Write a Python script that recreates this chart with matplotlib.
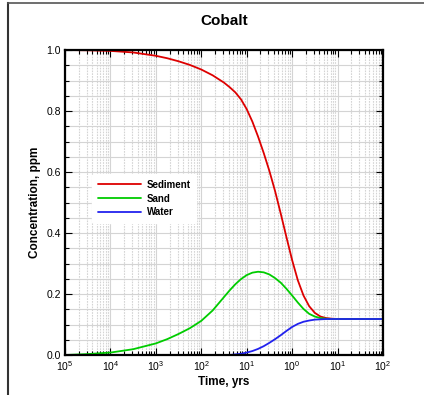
import matplotlib
matplotlib.use("Agg")
import matplotlib.pyplot as plt
from matplotlib.lines import Line2D
from matplotlib.ticker import MultipleLocator, LogLocator, NullFormatter

plt.rcParams['font.family'] = ['Liberation Sans', 'DejaVu Sans']

# Data (log10 of time in years, concentration in ppm)
log_time = [-5, -4.5, -4, -3.5, -3, -2.75, -2.5, -2.25, -2, -1.75, -1.5, -1.375, -1.25,
            -1.125, -1, -0.875, -0.75, -0.625, -0.5, -0.375, -0.25, -0.125, 0, 0.125,
            0.25, 0.375, 0.5, 0.625, 0.75, 0.875, 1, 1.5, 2]
sediment = [1.0, 0.999, 0.997, 0.992, 0.981, 0.973, 0.963, 0.951, 0.936, 0.917, 0.893, 0.878, 0.861,
            0.838, 0.806, 0.765, 0.716, 0.662, 0.603, 0.537, 0.463, 0.386, 0.311, 0.245,
            0.195, 0.16, 0.138, 0.126, 0.121, 0.119, 0.118, 0.118, 0.118]
sand = [0.0, 0.003, 0.008, 0.019, 0.038, 0.052, 0.069, 0.088, 0.112, 0.146, 0.19, 0.212, 0.232,
        0.249, 0.262, 0.27, 0.273, 0.271, 0.264, 0.252, 0.237, 0.217, 0.195, 0.172,
        0.151, 0.135, 0.126, 0.121, 0.119, 0.118, 0.118, 0.118, 0.118]
water = [0.0, 0.0, 0.0, 0.0, 0.0, 0.0, 0.0, 0.0, 0.0, 0.0, 0.0, 0.0, 0.002,
         0.004, 0.008, 0.013, 0.02, 0.029, 0.04, 0.052, 0.065, 0.079, 0.092, 0.102,
         0.109, 0.113, 0.116, 0.117, 0.118, 0.118, 0.118, 0.118, 0.118]
time = [10 ** v for v in log_time]

series_names = ["Sediment", "Sand", "Water"]
series_colors = ["#dd0000", "#00cc00", "#2222ee"]

x_ticks = [1e-5, 1e-4, 1e-3, 1e-2, 1e-1, 1e0, 1e1, 1e2]
x_tick_labels = [r"$\mathregular{10^{5}}$", r"$\mathregular{10^{4}}$", r"$\mathregular{10^{3}}$",
                 r"$\mathregular{10^{2}}$", r"$\mathregular{10^{1}}$", r"$\mathregular{10^{0}}$",
                 r"$\mathregular{10^{1}}$", r"$\mathregular{10^{2}}$"]
y_ticks = [0.0, 0.2, 0.4, 0.6, 0.8, 1.0]
y_tick_labels = ["0.0", "0.2", "0.4", "0.6", "0.8", "1.0"]

fig = plt.figure(figsize=(4.24, 3.95), dpi=100)
ax = fig.add_axes([65 / 424, 1 - 355 / 395, (383 - 65) / 424, (355 - 50) / 395])

for name, vals, col in zip(series_names, [sediment, sand, water], series_colors):
    ax.plot(time, vals, color=col, lw=1.3, label=name, solid_capstyle='round',
            solid_joinstyle='round')

ax.set_xscale('log')
ax.set_xlim(1e-5, 1e2)
ax.set_ylim(0, 1)
ax.set_xticks(x_ticks)
ax.set_xticklabels(x_tick_labels, fontsize=7.5)
ax.xaxis.set_minor_locator(LogLocator(base=10, subs=range(2, 10), numticks=100))
ax.xaxis.set_minor_formatter(NullFormatter())
ax.set_yticks(y_ticks)
ax.set_yticklabels(y_tick_labels, fontsize=7.5)
ax.yaxis.set_minor_locator(MultipleLocator(0.05))

ax.tick_params(which='both', direction='in', top=True, right=True, width=0.8, pad=3)
ax.tick_params(which='major', length=5)
ax.tick_params(which='minor', length=3)

ax.grid(True, which='major', axis='both', color='#d4d4d4', lw=0.8, zorder=0)
ax.grid(True, which='minor', axis='y', color='#d4d4d4', lw=0.8, zorder=0)
ax.grid(True, which='minor', axis='x', color='#d4d4d4', lw=0.8, ls=(0, (1.5, 1)), zorder=0)
ax.set_axisbelow(True)

for sp in ax.spines.values():
    sp.set_linewidth(1.6)

ax.set_title("Cobalt", fontsize=11, fontweight='bold', pad=18)
ax.set_xlabel("Time, yrs", fontsize=8.5, fontweight='bold', labelpad=2)
ax.set_ylabel("Concentration, ppm", fontsize=8.5, fontweight='bold', labelpad=4)

leg = ax.legend(loc='upper left', bbox_to_anchor=(0.07, 0.61), frameon=True,
                prop={'weight': 'bold', 'size': 7}, handlelength=4.4, handletextpad=0.6,
                labelspacing=0.4, borderpad=0.6)
leg.get_frame().set_edgecolor('white')
leg.get_frame().set_facecolor('white')
leg.get_frame().set_alpha(1.0)

# outer frame lines (left and top)
fig.add_artist(Line2D([8 / 424, 8 / 424], [0, 1 - 3 / 395], transform=fig.transFigure,
                      color='#333333', lw=1.5))
fig.add_artist(Line2D([8 / 424, 1], [1 - 3 / 395, 1 - 3 / 395], transform=fig.transFigure,
                      color='#555555', lw=1.2))

fig.savefig("out.png", dpi=100, facecolor='white')
